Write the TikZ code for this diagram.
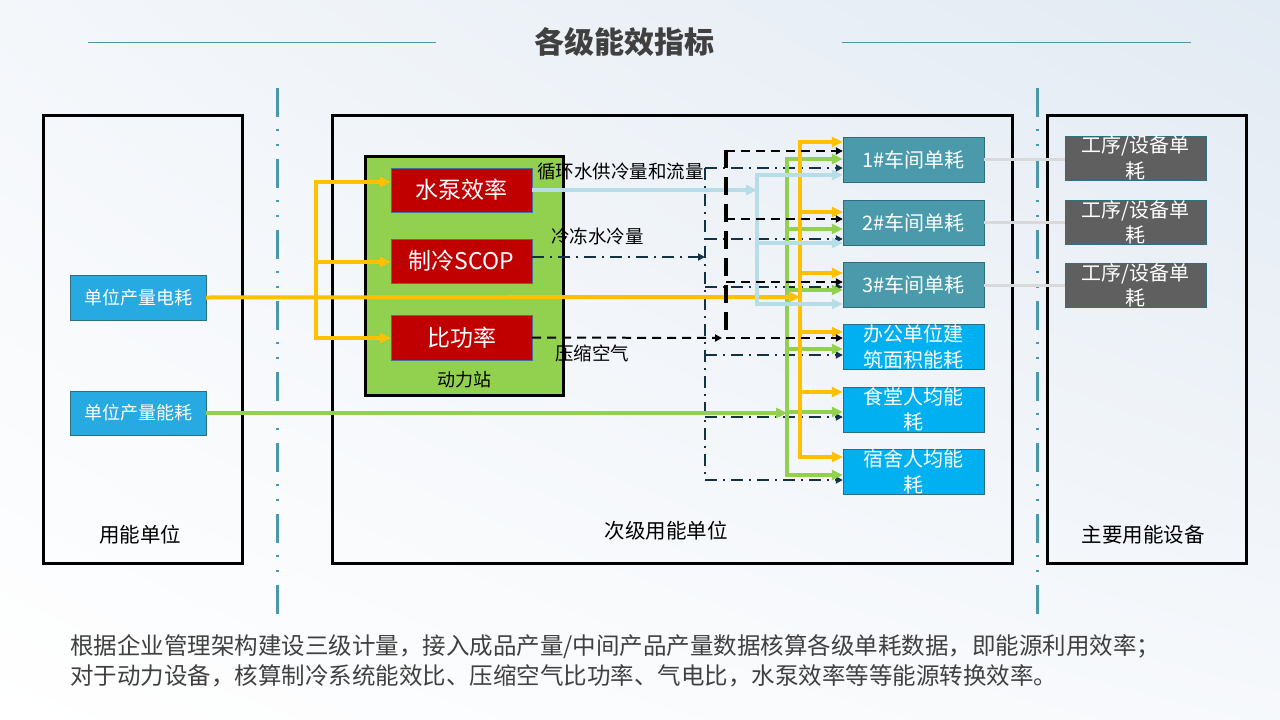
\documentclass[tikz,border=0pt]{standalone}
\usepackage{fontspec}
\setmainfont{Noto Sans CJK SC}
\usetikzlibrary{arrows.meta,shadings}

\definecolor{flowOrange}{RGB}{255,192,0}
\definecolor{flowGreen}{RGB}{146,208,80}
\definecolor{flowBlue}{RGB}{183,221,232}
\definecolor{flowNavy}{RGB}{20,50,70}
\definecolor{divTeal}{RGB}{75,152,170}
\definecolor{unitBlue}{RGB}{39,170,225}
\definecolor{unitEdge}{RGB}{47,110,128}
\definecolor{effRed}{RGB}{192,0,0}
\definecolor{effEdge}{RGB}{65,113,156}
\definecolor{shopTeal}{RGB}{74,154,171}
\definecolor{areaBlue}{RGB}{0,176,240}
\definecolor{devGray}{RGB}{95,95,95}
\definecolor{linkGray}{RGB}{217,217,217}
\definecolor{titleGray}{RGB}{64,64,64}
\definecolor{bgBlue}{RGB}{226,234,243}

\begin{document}
\begin{tikzpicture}[x=1pt, y=-1pt,
    unitframe/.style={draw=black, line width=3pt, minimum width=199pt,
        minimum height=448pt, inner sep=0pt},
    unitbox/.style={draw=unitEdge, fill=unitBlue, minimum width=136pt,
        minimum height=45pt, text=white, font=\fontsize{18}{22}\selectfont},
    effbox/.style={draw=effEdge, fill=effRed, minimum width=141pt,
        minimum height=44pt, text=white, font=\fontsize{23}{27}\selectfont},
    shopbox/.style={draw=unitEdge, fill=shopTeal, minimum width=141pt,
        minimum height=45pt, text=white, font=\fontsize{20}{24}\selectfont},
    areabox/.style={shopbox, fill=areaBlue},
    devbox/.style={shopbox, fill=devGray, minimum height=44pt},
    boxtext/.style={text=white, align=center, inner sep=0pt,
        font=\fontsize{20}{25.5}\selectfont},
    caption/.style={font=\fontsize{20.5}{24}\selectfont},
    flowtag/.style={anchor=west, inner sep=0pt, font=\fontsize{18.5}{22}\selectfont},
    elec/.style={draw=flowOrange, line width=4pt},
    energy/.style={draw=flowGreen, line width=4pt},
    water/.style={draw=flowBlue, line width=4pt},
    bigtip/.style={-{Triangle[length=11pt,width=10pt]}},
    smalltip/.style={-{Triangle[length=7pt,width=7pt]}},
    chill/.style={draw=flowNavy, line width=2pt,
        dash pattern=on 12pt off 6pt on 2pt off 6pt},
    air/.style={draw=black, line width=2pt, dash pattern=on 9pt off 6pt},
    bus/.style={draw=black, line width=4pt, dash pattern=on 18pt off 9pt},
    divider/.style={draw=divTeal, line width=3pt,
        dash pattern=on 29pt off 12pt on 2pt off 13pt on 2pt off 13pt},
    link/.style={draw=linkGray, line width=3pt}
]
    \useasboundingbox (0,0) rectangle (1280,720);
    \shade[upper left=white!60!bgBlue, upper right=bgBlue,
        lower left=white, lower right=white!70!bgBlue] (0,0) rectangle (1280,720);

    \node[font=\bfseries\fontsize{30}{34}\selectfont, text=titleGray] (title) at (624,42) {各级能效指标};
    \draw[divTeal, line width=1pt] (88,42) -- (436,42);
    \draw[divTeal, line width=1pt] (842,42) -- (1191,42);

    \node[unitframe] (userframe) at (142.5,339) {};
    \node[unitframe, minimum width=680pt] (subframe) at (672,339) {};
    \node[unitframe] (devframe) at (1146.5,339) {};
    \node[caption] (usercap) at (140,535) {用能单位};
    \node[caption] (subcap) at (666,531) {次级用能单位};
    \node[caption] (devcap) at (1143,535) {主要用能设备};

    \draw[divider] (277,88) -- (277,620);
    \draw[divider] (1037,88) -- (1037,620);

    \node[unitbox] (elec) at (138,297.5) {单位产量电耗};
    \node[unitbox, minimum height=44pt] (energy) at (138,413) {单位产量能耗};

    \node[draw=black, line width=3pt, fill=flowGreen, minimum width=198pt,
        minimum height=239pt] (station) at (464,275.5) {};
    \node[font=\fontsize{18}{22}\selectfont] (stationcap) at (464,380) {动力站};
    \node[effbox] (pump) at (461.5,190) {水泵效率};
    \node[effbox] (scop) at (461.5,261) {制冷SCOP};
    \node[effbox, minimum height=45pt] (power) at (461.5,337.5) {比功率};

    \node[shopbox] (ws1) at (913.5,159.5) {1\#车间单耗};
    \node[shopbox] (ws2) at (913.5,222.5) {2\#车间单耗};
    \node[shopbox] (ws3) at (913.5,285) {3\#车间单耗};
    \node[areabox, label={[boxtext]center:办公单位建\\筑面积能耗}] (office) at (913.5,347) {};
    \node[areabox, label={[boxtext]center:食堂人均能\\耗}] (canteen) at (913.5,409.5) {};
    \node[areabox, label={[boxtext]center:宿舍人均能\\耗}] (dorm) at (913.5,472) {};

    \node[devbox, label={[boxtext]center:工序/设备单\\耗}] (eq1) at (1135.5,158) {};
    \node[devbox, label={[boxtext]center:工序/设备单\\耗}] (eq2) at (1135.5,222.5) {};
    \node[devbox, label={[boxtext]center:工序/设备单\\耗}] (eq3) at (1135.5,285.5) {};

    \draw[link] (ws1.east) -- (ws1.east -| eq1.west);
    \draw[link] (ws2.east) -- (ws2.east -| eq2.west);
    \draw[link] (ws3.east) -- (ws3.east -| eq3.west);

    \draw[chill, smalltip] (scop.east |- 0,257) -- (705,257);
    \draw[chill] (705,168) -- (705,480);
    \draw[chill, smalltip] (705,168) -- (ws1.west |- 0,168);
    \draw[chill, smalltip] (705,239) -- (ws2.west |- 0,239);
    \draw[chill, smalltip] (705,287) -- (ws3.west |- 0,287);
    \draw[chill, smalltip] (705,355) -- (office.west |- 0,355);
    \draw[chill, smalltip] (705,417) -- (canteen.west |- 0,417);
    \draw[chill, smalltip] (705,480) -- (dorm.west |- 0,480);

    \draw[energy, bigtip] (energy.east) -- (787,413);
    \draw[energy, line cap=rect] (787,159) -- (787,475);
    \draw[energy, bigtip] (787,159) -- (ws1.west |- 0,159);
    \draw[energy, bigtip] (787,229) -- (ws2.west |- 0,229);
    \draw[energy, bigtip] (787,290) -- (ws3.west |- 0,290);
    \draw[energy, bigtip] (787,349) -- (office.west |- 0,349);
    \draw[energy, bigtip] (787,412) -- (canteen.west |- 0,412);
    \draw[energy, bigtip] (787,475) -- (dorm.west |- 0,475);

    \draw[elec, line cap=rect] (316,182) -- (316,338);
    \draw[elec, bigtip] (316,182) -- (pump.west |- 0,182);
    \draw[elec, bigtip] (316,262) -- (scop.west |- 0,262);
    \draw[elec, bigtip] (316,338) -- (power.west |- 0,338);
    \draw[elec, bigtip] (elec.east) -- (800,297);
    \draw[elec, line cap=rect] (800,142) -- (800,457);
    \draw[elec, bigtip] (800,142) -- (ws1.west |- 0,142);
    \draw[elec, bigtip] (800,212) -- (ws2.west |- 0,212);
    \draw[elec, bigtip] (800,273) -- (ws3.west |- 0,273);
    \draw[elec, bigtip] (800,332) -- (office.west |- 0,332);
    \draw[elec, bigtip] (800,392) -- (canteen.west |- 0,392);
    \draw[elec, bigtip] (800,457) -- (dorm.west |- 0,457);

    \draw[water, bigtip] (pump.east) -- (757,190);
    \draw[water, line cap=rect] (757,175) -- (757,304);
    \draw[water, bigtip] (757,175) -- (ws1.west |- 0,175);
    \draw[water, bigtip] (757,243) -- (ws2.west |- 0,243);
    \draw[water, bigtip] (757,304) -- (ws3.west |- 0,304);

    \draw[air, smalltip] (power.east) -- (722,338);
    \draw[bus] (726,150) -- (726,336);
    \draw[air, smalltip] (726,151) -- (ws1.west |- 0,151);
    \draw[air, smalltip] (726,219) -- (ws2.west |- 0,219);
    \draw[air, smalltip] (726,282) -- (ws3.west |- 0,282);
    \draw[air, smalltip] (726,338) -- (office.west |- 0,338);

    \node[flowtag] (watertag) at (537,172) {循环水供冷量和流量};
    \node[flowtag] (chilltag) at (551,236) {冷冻水冷量};
    \node[flowtag] (airtag) at (555,353) {压缩空气};

    \node[anchor=west, align=left, inner sep=0pt, text=titleGray,
        font=\fontsize{23.5}{30}\selectfont] (note) at (70,661)
        {根据企业管理架构建设三级计量，接入成品产量/中间产品产量数据核算各级单耗数据，即能源利用效率；\\
         对于动力设备，核算制冷系统能效比、压缩空气比功率、气电比，水泵效率等等能源转换效率。};
\end{tikzpicture}
\end{document}
